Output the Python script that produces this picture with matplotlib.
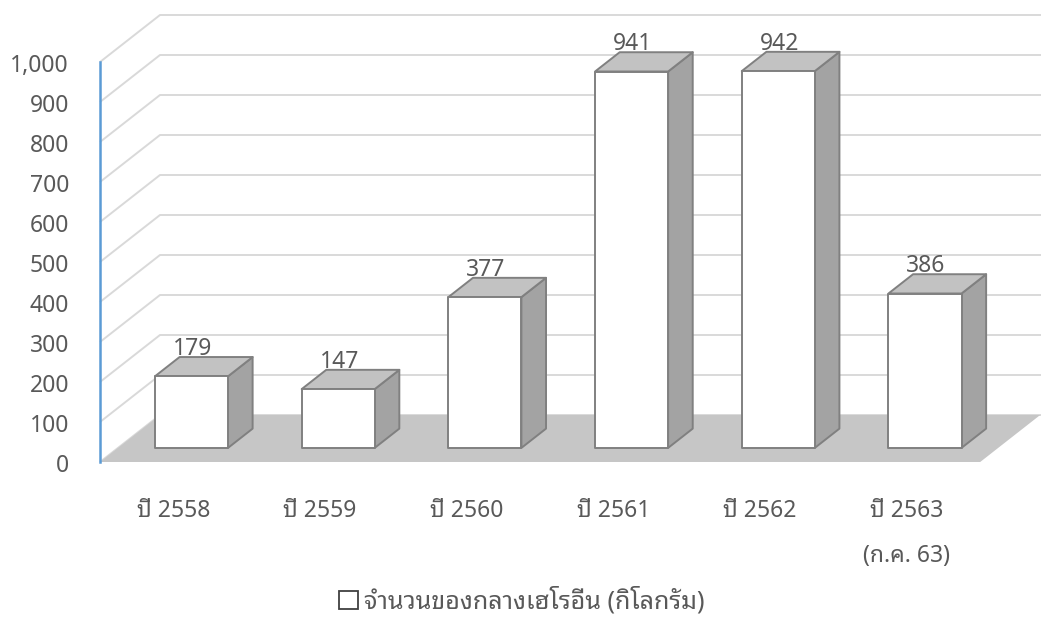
import matplotlib
matplotlib.use("Agg")
import matplotlib.pyplot as plt
from matplotlib.patches import Polygon, Patch

categories = ["ปี 2558", "ปี 2559", "ปี 2560", "ปี 2561", "ปี 2562", "ปี 2563\n(ก.ค. 63)"]
values = [179, 147, 377, 941, 942, 386]
yticks = [0, 100, 200, 300, 400, 500, 600, 700, 800, 900, 1000]
ytick_labels = ["0", "100", "200", "300", "400", "500", "600", "700", "800", "900", "1,000"]
legend_label = "จำนวนของกลางเฮโรอีน (กิโลกรัม)"

FONT = ["Noto Sans Thai Looped", "DejaVu Sans"]
TXT = "#595959"
FS = 16.5

W, H = 1041, 617
fig = plt.figure(figsize=(W / 100, H / 100), dpi=100)

# pixel geometry of the pseudo-3D frame
x0_px, y0_px = 100, 462          # front-left floor corner
cat_px = 146.7                    # px per category
val_px = 0.4                      # px per value unit
dep_dx, dep_dy = 60, 47           # px shift for full depth

ax = fig.add_axes([0, 0, 1, 1])
ax.set_xlim(-x0_px / cat_px, (W - x0_px) / cat_px)
ax.set_ylim(-(H - y0_px) / val_px, y0_px / val_px)
ax.axis("off")

ddx = dep_dx / cat_px
ddy = dep_dy / val_px
n = len(values)
vmax = yticks[-1]


def P(u, v, w):
    """oblique projection of (category, value, depth) into data coords"""
    return (u + w * ddx, v + w * ddy)


# back wall gridlines + left wall diagonals
for t in yticks:
    xs, ys = zip(P(0, t, 0), P(0, t, 1), P(n + 0.2, t, 1))
    ax.plot(xs, ys, color="#d9d9d9", lw=1.4, zorder=1, solid_capstyle="butt")

# floor
floor = [P(0, 0, 0), P(n, 0, 0), P(n, 0, 1), P(0, 0, 1)]
ax.add_patch(Polygon(floor, closed=True, facecolor="#c6c6c6", edgecolor="none", zorder=2))

# vertical axis line
ax.plot(*zip(P(0, 0, 0), P(0, vmax, 0)), color="#5b9bd5", lw=1.8, zorder=3)

# bars
bw0, bw1 = 0.252, 0.75
d0, d1 = 0.30, 0.71
edge = "#808080"
for i, v in enumerate(values):
    ua, ub = i + bw0, i + bw1
    front = [P(ua, 0, d0), P(ub, 0, d0), P(ub, v, d0), P(ua, v, d0)]
    side = [P(ub, 0, d0), P(ub, 0, d1), P(ub, v, d1), P(ub, v, d0)]
    top = [P(ua, v, d0), P(ub, v, d0), P(ub, v, d1), P(ua, v, d1)]
    ax.add_patch(Polygon(side, closed=True, facecolor="#a3a3a3", edgecolor=edge, lw=1.4, zorder=4, joinstyle="round"))
    ax.add_patch(Polygon(top, closed=True, facecolor="#c2c2c2", edgecolor=edge, lw=1.4, zorder=4, joinstyle="round"))
    ax.add_patch(Polygon(front, closed=True, facecolor="white", edgecolor=edge, lw=1.4, zorder=5, joinstyle="round"))
    lx = P(i + (bw0 + bw1) / 2, v, d0)[0]
    ly = P(i, v, d1)[1]
    ax.annotate(f"{v:,}", (lx, ly), xytext=(1, 2), textcoords="offset pixels",
                ha="center", va="baseline", fontsize=FS, color=TXT, family=FONT, zorder=6)

# value tick labels
for t, lab in zip(yticks, ytick_labels):
    ax.annotate(lab, P(0, t, 0), xytext=(-31, -10), textcoords="offset pixels",
                ha="right", va="baseline", fontsize=FS, color=TXT, family=FONT)

# category labels (one annotation per text line)
for i, lab in enumerate(categories):
    for k, line in enumerate(lab.split("\n")):
        ax.annotate(line, P(i + 0.5, 0, 0), xytext=(0, -55 - 45 * k), textcoords="offset pixels",
                    ha="center", va="baseline", fontsize=FS, color=TXT, family=FONT)

# legend
handle = Patch(facecolor="white", edgecolor="#404040", lw=1.3)
fig.legend([handle], [legend_label], loc="center", bbox_to_anchor=(0.501, 0.026),
           frameon=False, handlelength=0.75, handleheight=0.75, handletextpad=0.25,
           prop={"family": FONT, "size": 18}, labelcolor=TXT)

fig.savefig("out.png", dpi=100)
